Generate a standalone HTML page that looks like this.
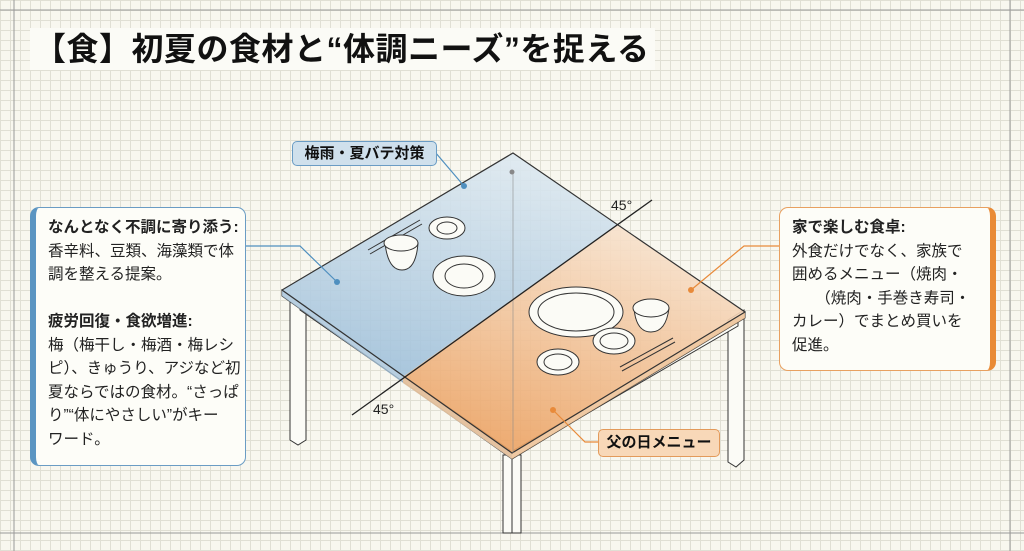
<!DOCTYPE html>
<html><head><meta charset="utf-8"><style>
body{margin:0;width:1024px;height:551px;overflow:hidden;background:#f8f7ef;font-family:"Liberation Sans","Noto Sans CJK JP",sans-serif;}
.bg{position:absolute;left:0;top:0;width:1024px;height:551px;
background-image:linear-gradient(#e0dfd4 1px,transparent 1px),linear-gradient(90deg,#e0dfd4 1px,transparent 1px);background-size:10px 10px;}
.title{position:absolute;left:30px;top:28px;width:625px;height:42px;background:#fbfbf6;font-weight:bold;font-size:32px;line-height:42px;color:#111;white-space:nowrap;letter-spacing:0.5px;padding-left:4px;box-sizing:border-box}
.box{position:absolute;background:#fdfdf8;border-radius:9px;font-size:15.5px;line-height:23.5px;color:#222;padding:8px 4px 8px 12px;box-sizing:border-box;white-space:nowrap}
.lbl{position:absolute;font-weight:bold;font-size:15px;border-radius:5px;text-align:center;color:#111}
</style></head><body>
<div class="bg"></div>
<svg width="1024" height="551" style="position:absolute;left:0;top:0">
<line x1="14" y1="0" x2="14" y2="551" stroke="#999"/>
<line x1="1010" y1="0" x2="1010" y2="551" stroke="#999"/>
<line x1="0" y1="10" x2="1024" y2="10" stroke="#999"/>
<line x1="0" y1="533" x2="1024" y2="533" stroke="#999"/>
<g fill="#fbfbf6" stroke="#333" stroke-width="1">
<polygon points="290,298 306,306 306,440 298,445 290,440"/>
<polygon points="728,320 744,310 744,460 736,467 728,462"/>
<rect x="503" y="455" width="9" height="78"/><rect x="512" y="455" width="9" height="78"/>
<polygon points="300,304 510,450 510,456 300,310"/>
<polygon points="514,450 738,320 738,326 514,456"/>
</g>
<polygon points="282,290 512,453 745,312 745,318 512,459 282,296" fill="#eee" stroke="#333"/>
<polygon points="282,290 403,377 512,453 512,459 403,383 282,296" fill="#a9c6dc" opacity=".8"/>
<polygon points="403,377 512,453 745,312 745,318 512,459 403,383" fill="#efbf90" opacity=".8"/>
<defs>
<linearGradient id="gb" x1="0.5" y1="0" x2="0.3" y2="1"><stop offset="0" stop-color="#dce8f0"/><stop offset="1" stop-color="#9fc0da"/></linearGradient>
<linearGradient id="go" x1="0.8" y1="0" x2="0.4" y2="1"><stop offset="0" stop-color="#f8e6d4"/><stop offset="1" stop-color="#eca466"/></linearGradient>
</defs>
<polygon points="513,153 617,225 403,377 282,290" fill="url(#gb)" opacity=".9"/>
<polygon points="617,225 745,312 512,453 403,377" fill="url(#go)" opacity=".9"/>
<polygon points="513,153 745,312 512,453 282,290" fill="none" stroke="#333" stroke-width="1.2"/>
<line x1="513" y1="173" x2="513" y2="453" stroke="#888" stroke-width=".8" opacity=".7"/>
<line x1="352" y1="415" x2="652" y2="200" stroke="#222" stroke-width="1.3"/>
<text x="611" y="210" font-size="14" fill="#222">45°</text>
<text x="373" y="414" font-size="14" fill="#222">45°</text>
<g fill="#fbfbf6" stroke="#333" stroke-width="1">
<line x1="368" y1="250" x2="420" y2="220"/><line x1="370" y1="254" x2="422" y2="224"/>
<path d="M385 243 Q388 270 402 270 Q416 270 418 243 Z"/><ellipse cx="401" cy="243" rx="17" ry="8"/>
<ellipse cx="447" cy="228" rx="18" ry="11"/><ellipse cx="447" cy="228" rx="10" ry="6"/>
<ellipse cx="464" cy="276" rx="31" ry="20"/><ellipse cx="464" cy="276" rx="19" ry="12"/>
<ellipse cx="576" cy="312" rx="47" ry="25"/><ellipse cx="576" cy="312" rx="38" ry="19"/>
<path d="M634 308 Q636 332 651 332 Q666 332 669 308 Z"/><ellipse cx="651" cy="308" rx="18" ry="9"/>
<ellipse cx="614" cy="341" rx="21" ry="13"/><ellipse cx="614" cy="341" rx="14" ry="8"/>
<ellipse cx="558" cy="362" rx="21" ry="13"/><ellipse cx="558" cy="362" rx="14" ry="8"/>
<line x1="620" y1="367" x2="673" y2="338"/><line x1="622" y1="371" x2="675" y2="342"/>
</g>
<g fill="none" stroke-width="1.2">
<polyline points="245,246 300,246 337,282" stroke="#4f8fbf"/>
<polyline points="435,152 464,186" stroke="#4f8fbf"/>
<polyline points="779,246 744,246 691,290" stroke="#e88a3a"/>
<polyline points="553,410 585,442 598,442" stroke="#e88a3a"/>
</g>
<circle cx="337" cy="282" r="3" fill="#4f8fbf"/><circle cx="464" cy="186" r="3" fill="#4f8fbf"/>
<circle cx="691" cy="290" r="3" fill="#e88a3a"/><circle cx="553" cy="410" r="3" fill="#e88a3a"/>
<circle cx="512" cy="172" r="2.5" fill="#888"/>
</svg>
<div class="title">【食】初夏の食材と“体調ニーズ”を捉える</div>
<div class="lbl" style="left:292px;top:141px;width:143px;height:23px;line-height:23px;background:#cfe0ec;border:1px solid #6a9cc4">梅雨・夏バテ対策</div>
<div class="lbl" style="left:598px;top:429px;width:120px;height:26px;line-height:26px;background:#f8d8b8;border:1px solid #e39a5a">父の日メニュー</div>
<div class="box" style="left:30px;top:207px;width:216px;height:259px;border:1.5px solid #6a9cc4;border-left:6px solid #5b95c2;">
<b>なんとなく不調に寄り添う:</b><br>香辛料、豆類、海藻類で体<br>調を整える提案。<br><br><b>疲労回復・食欲増進:</b><br>梅（梅干し・梅酒・梅レシ<br>ピ）、きゅうり、アジなど初<br>夏ならではの食材。“さっぱ<br>り”“体にやさしい”がキー<br>ワード。</div>
<div class="box" style="left:779px;top:207px;width:217px;height:164px;border:1.5px solid #e8a060;border-right:6px solid #e98a35;padding-left:12px">
<b>家で楽しむ食卓:</b><br>外食だけでなく、家族で<br>囲めるメニュー（焼肉・<br>　　（焼肉・手巻き寿司・<br>カレー）でまとめ買いを<br>促進。</div>
</body></html>
